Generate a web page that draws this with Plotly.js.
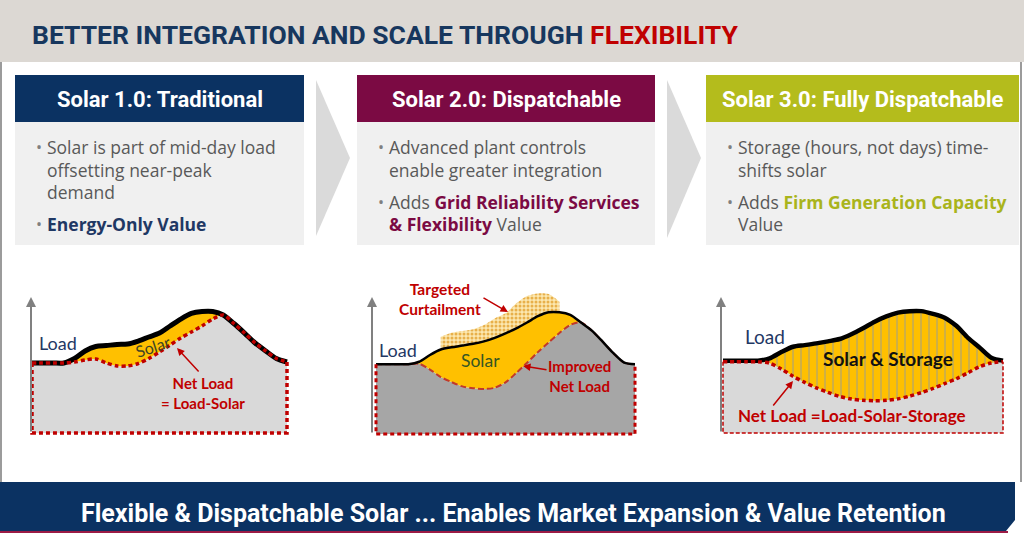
<!DOCTYPE html>
<html>
<head>
<meta charset="utf-8">
<script src="https://cdn.plot.ly/plotly-3.0.1.min.js"></script>
<style>html,body{margin:0;padding:0;background:#fff;}#chart{width:1024px;height:533px;}</style>
</head>
<body>
<div id="chart"></div>
<script>
// ---------------- DATA ----------------
const hours = [0,1,2,3,4,5,6,7,8,9,10,11,12,13,14,15,16,17,18,19,20,21,22,23,24];

// Solar 1.0 (traditional)
const load1 = [51.5,51.5,51.5,51.5,54.8,60.3,63.6,64.3,65.1,65.4,67.6,70.6,73.5,78.7,83.8,87.9,89.3,89.3,86.8,80.5,73.5,66.2,60.3,54.8,52.2];
const net1  = [51.5,51.5,51.5,51.5,52.2,53.7,54.4,51.5,49.3,49.3,51.1,54.8,59.6,64.7,69.9,74.3,78.7,83.8,86.8,80.5,73.5,66.2,60.3,54.8,52.2];

// Solar 2.0 (dispatchable)
const load2 = [51.3,51.3,51.3,51.3,53.1,58.1,62.1,63.8,65.0,66.3,68.1,70.7,74.0,77.6,82.0,86.6,89.5,89.5,87.6,82.0,76.0,67.9,59.4,52.5,51.3];
const net2  = [51.3,51.3,51.3,51.3,51.6,47.4,41.9,38.2,35.0,33.7,33.1,34.0,38.0,44.9,52.4,60.2,67.3,74.3,80.2,82.0,76.0,67.9,59.4,52.5,51.3];
const curtailHours = [6,7,8,9,10,11,12,13,14,15,16,17];
const curtailTop   = [71.5,74.5,75.7,77.0,80.1,85.0,88.7,96.1,101.5,103.4,102.9,97.3];

// Solar 3.0 (fully dispatchable)
const load3 = [53.2,53.2,53.2,53.2,54.9,59.5,63.4,64.6,65.9,67.4,69.1,72.6,77.0,81.8,85.7,88.5,89.6,89.6,87.6,84.8,78.8,70.0,62.8,55.4,53.2];
const net3  = [52.4,52.4,52.4,52.4,51.3,47.0,41.7,37.2,33.2,29.8,26.9,25.0,24.1,23.7,24.0,25.1,27.1,29.7,32.8,36.3,39.9,44.3,48.8,51.5,52.4];

// Texts
const mainTitle = 'BETTER INTEGRATION AND SCALE THROUGH ';
const mainTitleAccent = 'FLEXIBILITY';
const boxTitles = ['Solar 1.0: Traditional', 'Solar 2.0: Dispatchable', 'Solar 3.0: Fully Dispatchable'];
const boxBullets = [
  [['Solar is part of mid-day load', 'offsetting near-peak', 'demand'],
   ['<span style="color:#1f3864"><b>Energy-Only Value</b></span>']],
  [['Advanced plant controls', 'enable greater integration'],
   ['Adds <span style="color:#7b0a43"><b>Grid Reliability Services</b></span>',
    '<span style="color:#7b0a43"><b>&amp; Flexibility</b></span> Value']],
  [['Storage (hours, not days) time-', 'shifts solar'],
   ['Adds <span style="color:#a9b41c"><b>Firm Generation Capacity</b></span>', 'Value']]
];
const footerText = 'Flexible &amp; Dispatchable Solar ... Enables Market Expansion &amp; Value Retention';

// ---------------- LAYOUT HELPERS ----------------
const W = 1024, H = 533;
const X = p => p / W;
const Y = p => 1 - p / H;
const NARROW = 'Roboto, "Liberation Sans", sans-serif';
const BODY = '"Open Sans", "Noto Sans", sans-serif';
const LBL = 'Lato, "Open Sans", sans-serif';
const RED = '#c00000';
const ORANGE = '#ffc000';

function axPair(x0, x1, ybot, ytop) {
  const sx = (x1 - x0) / 24, sy = 1.36, pad = 6;
  return {
    x: {domain: [X(x0 - pad), X(x1 + pad)], range: [-pad / sx, 24 + pad / sx], visible: false, fixedrange: true},
    y: {domain: [Y(ybot + pad), Y(ytop)], range: [-pad / sy, (ybot - ytop) / sy], visible: false, fixedrange: true}
  };
}
const a1 = axPair(32, 287, 433, 288);
const a2 = axPair(376, 635, 434, 288);
const a3 = axPair(723, 1003, 433, 288);

function tr(n, x, y, o) {
  return Object.assign({
    type: 'scatter', mode: 'lines', x: x, y: y,
    xaxis: n === 1 ? 'x' : 'x' + n, yaxis: n === 1 ? 'y' : 'y' + n,
    hoverinfo: 'skip', showlegend: false
  }, o);
}
const sp = (c, w, d) => ({shape: 'spline', smoothing: 0.8, color: c, width: w, dash: d || 'solid'});
const border = (n, net, c, w, d) => tr(n,
  [hours[0], hours[0], hours[hours.length - 1], hours[hours.length - 1]],
  [net[0], 0, 0, net[net.length - 1]],
  {line: {color: c, width: w, dash: d}});

const traces = [
  // chart 1
  tr(1, hours, net1, {fill: 'tozeroy', fillcolor: '#d9d9d9', line: sp('#d9d9d9', 0)}),
  tr(1, hours, load1, {fill: 'tonexty', fillcolor: ORANGE, line: sp('#000', 5)}),
  tr(1, hours, net1, {line: sp(RED, 3.5, '4px,3px')}),
  border(1, net1, RED, 3.5, '4px,3px'),
  // chart 2
  tr(2, hours, net2, {fill: 'tozeroy', fillcolor: '#a6a6a6', line: sp('#a6a6a6', 0)}),
  tr(2, hours, load2, {fill: 'tonexty', fillcolor: ORANGE, line: sp(ORANGE, 0)}),
  tr(2, curtailHours, load2.slice(curtailHours[0], curtailHours[curtailHours.length - 1] + 1), {line: sp('#000', 0)}),
  tr(2, curtailHours, curtailTop, {fill: 'tonexty', fillcolor: '#fbe4a4',
     fillpattern: {shape: '.', bgcolor: '#fce8b0', fgcolor: '#e8b04a', size: 4, solidity: 0.45},
     line: sp('#fbe4a4', 0)}),
  tr(2, hours, net2, {line: sp('#c0392b', 2, '6px,3px')}),
  tr(2, hours, load2, {line: sp('#000', 2.5)}),
  border(2, net2, RED, 3, '4px,3px'),
  // chart 3
  tr(3, hours, net3, {fill: 'tozeroy', fillcolor: '#d9d9d9', line: sp('#d9d9d9', 0)}),
  tr(3, hours, load3, {fill: 'tonexty', fillcolor: ORANGE,
     fillpattern: {shape: '|', bgcolor: ORANGE, fgcolor: '#8497b0', size: 8, solidity: 0.1},
     line: sp('#000', 4.5)}),
  tr(3, hours, net3, {line: sp(RED, 3.5, '4px,3px')}),
  border(3, net3, RED, 1.5, '4px,2px')
];

// ---------------- SHAPES ----------------
const rect = (x0, y0, x1, y1, fill) => ({type: 'rect', xref: 'paper', yref: 'paper',
  x0: X(x0), x1: X(x1), y0: Y(y1), y1: Y(y0), fillcolor: fill, line: {width: 0}, layer: 'below'});
const poly = (pts, fill) => ({type: 'path', xref: 'paper', yref: 'paper', layer: 'below',
  path: 'M' + pts.map(p => X(p[0]) + ',' + Y(p[1])).join(' L') + ' Z', fillcolor: fill, line: {width: 0}});
const vline = (x, y0, y1, c, w) => ({type: 'line', xref: 'paper', yref: 'paper',
  x0: X(x), x1: X(x), y0: Y(y0), y1: Y(y1), line: {color: c, width: w}, layer: 'below'});

const boxes = [
  {x0: 15, x1: 304, color: '#0b3262'},
  {x0: 357, x1: 655, color: '#7b0a43'},
  {x0: 706, x1: 1019, color: '#b4bc1c'}
];

const shapes = [
  rect(0, 0, 1024, 62, '#dcd8d3'),
  vline(1, 62, 482, '#9b9b9b', 2),
  vline(1021, 62, 482, '#9b9b9b', 2),
  poly([[316, 80], [350, 158], [316, 236]], '#dadada'),
  poly([[667, 80], [701, 158], [667, 238]], '#dadada'),
  poly([[0, 482], [1015, 482], [1015, 520], [1006, 531], [0, 531]], '#0b3262'),
  rect(0, 531, 1008, 533, '#9b1b45')
];
boxes.forEach(b => {
  shapes.push(rect(b.x0, 75, b.x1, 122, b.color));
  shapes.push(rect(b.x0, 122, b.x1, 245, '#f0f0f0'));
});

// ---------------- ANNOTATIONS ----------------
const ann = [];
const txt = (x, y, text, font, o) => ann.push(Object.assign({xref: 'paper', yref: 'paper', x: X(x), y: Y(y),
  text: text, showarrow: false, xanchor: 'center', yanchor: 'middle', font: font}, o || {}));
const arrow = (hx, hy, tx, ty, c, w) => ann.push({xref: 'paper', yref: 'paper', x: X(hx), y: Y(hy),
  ax: tx - hx, ay: ty - hy, text: '', showarrow: true, arrowhead: 2, arrowsize: 1, arrowwidth: w, arrowcolor: c});

txt(30, 34, mainTitle + '<span style="color:#c00000">' + mainTitleAccent + '</span>',
  {family: NARROW, size: 26.5, color: '#17375e', weight: 700}, {xanchor: 'left'});

boxes.forEach((b, i) => {
  txt((b.x0 + b.x1) / 2, 99, boxTitles[i], {family: NARROW, size: 22, color: '#ffffff', weight: 700});
  let y = 147;
  boxBullets[i].forEach(item => {
    txt(b.x0 + 24, y, '•', {family: BODY, size: 16, color: '#7f7f7f'});
    item.forEach(line => {
      txt(b.x0 + 30, y, line, {family: BODY, size: 17.5, color: '#595959'}, {xanchor: 'left'});
      y += 22.6;
    });
    y += 9.6;
  });
});

txt(513, 513, footerText, {family: NARROW, size: 25, color: '#ffffff', weight: 700});

// chart 1 labels
txt(58, 343, 'Load', {family: LBL, size: 18, color: '#1f3864'});
txt(152, 346, 'Solar', {family: LBL, size: 16, color: '#3e4424'}, {textangle: -18});
txt(203, 393, '<b>Net Load<br>= Load-Solar</b>', {family: LBL, size: 15, color: RED});
arrow(177, 348, 200, 373, RED, 1.5);
// chart 2 labels
txt(440, 299, '<b>Targeted<br>Curtailment</b>', {family: LBL, size: 15.5, color: RED});
arrow(508, 312, 482, 297, RED, 1.5);
txt(398, 350, 'Load', {family: LBL, size: 18, color: '#1f3864'});
txt(480, 360, 'Solar', {family: LBL, size: 17.5, color: '#375623'});
txt(579, 376, '<b>Improved<br>Net Load</b>', {family: LBL, size: 15, color: RED});
arrow(523, 366, 548, 370, RED, 1.5);
// chart 3 labels
txt(765, 336, 'Load', {family: LBL, size: 19, color: '#1f3864'});
txt(888, 358, '<b>Solar &amp; Storage</b>', {family: LBL, size: 19, color: '#111111'});
txt(852, 415, '<b>Net Load =Load-Solar-Storage</b>', {family: LBL, size: 17, color: RED});
arrow(793, 381, 772, 407, RED, 1.5);
// axis arrows
arrow(31, 297, 31, 433, '#808080', 2);
arrow(372, 297, 372, 434, '#808080', 2);
arrow(721, 297, 721, 433, '#808080', 2);

const layout = {
  width: W, height: H,
  margin: {l: 0, r: 0, t: 0, b: 0},
  paper_bgcolor: '#ffffff', plot_bgcolor: 'rgba(0,0,0,0)',
  showlegend: false,
  xaxis: Object.assign({anchor: 'y'}, a1.x), yaxis: Object.assign({anchor: 'x'}, a1.y),
  xaxis2: Object.assign({anchor: 'y2'}, a2.x), yaxis2: Object.assign({anchor: 'x2'}, a2.y),
  xaxis3: Object.assign({anchor: 'y3'}, a3.x), yaxis3: Object.assign({anchor: 'x3'}, a3.y),
  shapes: shapes,
  annotations: ann
};

Plotly.newPlot('chart', traces, layout, {displayModeBar: false, staticPlot: true});
</script>
</body>
</html>
